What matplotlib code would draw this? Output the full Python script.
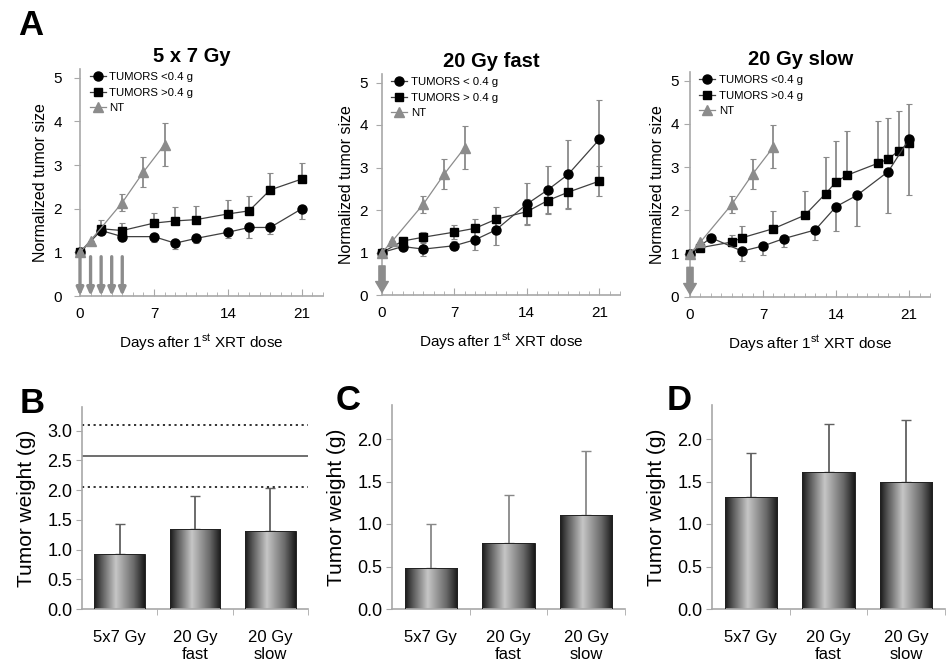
import matplotlib.pyplot as plt
import numpy as np
from matplotlib.colors import LinearSegmentedColormap
from matplotlib.ticker import MultipleLocator, FormatStrFormatter

plt.rcParams.update({'font.family': ['Liberation Sans', 'DejaVu Sans'],
                     'font.size': 10,
                     'figure.facecolor': 'white'})

# ---- panel A data (days after first dose, normalized size, error) ----
nt_day = [0, 1, 4, 6, 8]
nt_val = [1.0, 1.27, 2.14, 2.84, 3.47]
nt_err = [0, 0, 0.2, 0.35, 0.5]

a1_small_day = [0, 2, 4, 7, 9, 11, 14, 16, 18, 21]
a1_small_val = [1.0, 1.50, 1.36, 1.36, 1.21, 1.32, 1.46, 1.57, 1.57, 2.0]
a1_small_err = [0, 0.10, 0.10, 0.13, 0.13, 0.11, 0.14, 0.23, 0.16, 0.23]
a1_large_day = [0, 2, 4, 7, 9, 11, 14, 16, 18, 21]
a1_large_val = [1.0, 1.54, 1.50, 1.67, 1.72, 1.75, 1.88, 1.95, 2.43, 2.68]
a1_large_err = [0, 0.21, 0.18, 0.24, 0.31, 0.32, 0.33, 0.33, 0.39, 0.37]

a2_small_day = [0, 2, 4, 7, 9, 11, 14, 16, 18, 21]
a2_small_val = [1.0, 1.14, 1.08, 1.16, 1.30, 1.53, 2.14, 2.47, 2.84, 3.66]
a2_small_err = [0, 0.05, 0.17, 0.10, 0.25, 0.35, 0.50, 0.57, 0.80, 0.92]
a2_large_day = [0, 2, 4, 7, 9, 11, 14, 16, 18, 21]
a2_large_val = [1.0, 1.27, 1.36, 1.48, 1.57, 1.78, 1.96, 2.22, 2.42, 2.68]
a2_large_err = [0, 0.05, 0.13, 0.17, 0.22, 0.30, 0.30, 0.30, 0.40, 0.36]

a3_small_day = [0, 2, 5, 7, 9, 12, 14, 16, 19, 21]
a3_small_val = [1.0, 1.37, 1.06, 1.18, 1.35, 1.55, 2.09, 2.35, 2.90, 3.65]
a3_small_err = [0, 0, 0.23, 0.20, 0.19, 0.24, 0.56, 0.72, 0.96, 1.29]
a3_large_day = [0, 1, 4, 5, 8, 11, 13, 14, 15, 18, 19, 20, 21]
a3_large_val = [1.0, 1.14, 1.27, 1.37, 1.58, 1.89, 2.39, 2.66, 2.81, 3.09, 3.19, 3.38, 3.55]
a3_large_err = [0, 0, 0.16, 0.27, 0.41, 0.56, 0.85, 0.94, 1.02, 0.97, 0.95, 0.93, 0.91]

dose_days_5x7 = [0, 1, 2, 3, 4]
dose_days_20 = [0]

# ---- panels B-D data (tumor weight, g) ----
groups = ['5x7 Gy', '20 Gy\nfast', '20 Gy\nslow']
b_vals = [0.92, 1.35, 1.31]
b_err = [0.51, 0.56, 0.73]
b_ref_mean = 2.58
b_ref_band = [2.06, 3.09]
c_vals = [0.48, 0.78, 1.11]
c_err = [0.52, 0.56, 0.75]
d_vals = [1.32, 1.61, 1.49]
d_err = [0.51, 0.57, 0.73]

W, H = 952, 670
fig = plt.figure(figsize=(W/100, H/100), dpi=100)

def box(l, r, b, t):
    return [l/W, 1-b/H, (r-l)/W, (b-t)/H]

AX = '#a8a8a8'
NTC = '#8c8c8c'
ERC = '#8a8a8a'

def growth(rect, title, sday, sval, serr, lday, lval, lerr, both, labels, doses, big, ypad):
    ax = fig.add_axes(rect)
    sl = [serr, serr] if both else [serr, np.zeros(len(serr))]
    ll = [lerr, lerr] if both else [np.zeros(len(lerr)), lerr]
    ax.errorbar(nt_day, nt_val, yerr=nt_err, fmt='none', ecolor=ERC, elinewidth=1.3,
                capsize=2, capthick=0.8, zorder=2, clip_on=False)
    ax.errorbar(lday, lval, yerr=ll, fmt='none', ecolor=ERC, elinewidth=1.3,
                capsize=2, capthick=0.8, zorder=2, clip_on=False)
    ax.errorbar(sday, sval, yerr=sl, fmt='none', ecolor=ERC, elinewidth=1.3,
                capsize=2, capthick=0.8, zorder=2, clip_on=False)
    ax.plot(sday, sval, '-o', color='#404040', mfc='black', mec='black', ms=6.5, lw=0.9,
            label=labels[0], zorder=4, clip_on=False)
    ax.plot(lday, lval, '-s', color='#404040', mfc='black', mec='black', ms=6, lw=0.9,
            label=labels[1], zorder=3, clip_on=False)
    ax.plot(nt_day, nt_val, '-^', color=NTC, mfc=NTC, mec=NTC, ms=6.5, lw=0.9,
            label='NT', zorder=5, clip_on=False)
    for d in doses:
        if big:
            ax.annotate('', xy=(d, 0), xytext=(d, 0.75),
                        arrowprops=dict(arrowstyle='simple,head_length=0.55,head_width=0.65,tail_width=0.32',
                                        fc=NTC, ec=NTC, mutation_scale=14), zorder=6)
        else:
            ax.annotate('', xy=(d, 0), xytext=(d, 0.9),
                        arrowprops=dict(arrowstyle='-|>,head_length=0.45,head_width=0.2',
                                        color=NTC, lw=2.4, mutation_scale=10, shrinkA=0, shrinkB=0), zorder=6)
    ax.set_xlim(0, 23)
    ax.set_ylim(0, 5.2)
    ax.xaxis.set_major_locator(MultipleLocator(7))
    ax.xaxis.set_minor_locator(MultipleLocator(1))
    ax.yaxis.set_major_locator(MultipleLocator(1))
    ax.tick_params(axis='x', which='both', direction='in', color=AX, labelsize=11, pad=8)
    ax.tick_params(axis='x', which='major', length=5)
    ax.tick_params(axis='x', which='minor', length=3)
    ax.tick_params(axis='y', direction='out', length=4, color=AX, labelsize=11, pad=ypad)
    for s in ['top', 'right']:
        ax.spines[s].set_visible(False)
    for s in ['left', 'bottom']:
        ax.spines[s].set_color(AX)
        ax.spines[s].set_linewidth(1.2)
    ax.set_ylabel('Normalized tumor size', fontsize=11.5, labelpad=4)
    ax.set_xlabel(r'Days after 1$^{\mathregular{st}}$ XRT dose', fontsize=11, labelpad=8)
    ax.set_title(title, fontsize=14.5, fontweight='bold', x=0.46, pad=5)
    ax.legend(loc='upper left', bbox_to_anchor=(0.03, 0.995), frameon=False, fontsize=8.2,
              handlelength=1.4, handletextpad=0.3, labelspacing=0.45, borderaxespad=0,
              borderpad=0.2)
    return ax

growth(box(80, 323, 296, 69), '5 x 7 Gy', a1_small_day, a1_small_val, a1_small_err,
       a1_large_day, a1_large_val, a1_large_err, False,
       ['TUMORS <0.4 g', 'TUMORS >0.4 g'], dose_days_5x7, False, 9)
growth(box(382, 620, 295, 74), '20 Gy fast', a2_small_day, a2_small_val, a2_small_err,
       a2_large_day, a2_large_val, a2_large_err, True,
       ['TUMORS < 0.4 g', 'TUMORS > 0.4 g'], dose_days_20, True, 6)
growth(box(690, 930, 297, 72), '20 Gy slow', a3_small_day, a3_small_val, a3_small_err,
       a3_large_day, a3_large_val, a3_large_err, False,
       ['TUMORS <0.4 g', 'TUMORS >0.4 g'], dose_days_20, True, 4)

bar_cmap = LinearSegmentedColormap.from_list(
    'bargrad', [(0, '#181818'), (0.14, '#555555'), (0.43, '#c6c6c6'),
                (0.78, '#6a6a6a'), (1, '#181818')])

def weights(rect, vals, err, ymax, ecol):
    ax = fig.add_axes(rect)
    x = np.arange(len(vals))
    bars = ax.bar(x, vals, width=0.67, facecolor='none', edgecolor='#222222', lw=0.7, zorder=3)
    grad = np.linspace(0, 1, 256)[None, :]
    for p in bars.patches:
        im = ax.imshow(grad, cmap=bar_cmap, aspect='auto', zorder=2,
                       extent=[p.get_x(), p.get_x() + p.get_width(), 0, p.get_height()])
        im.set_clip_path(p)
    ax.errorbar(x, vals, yerr=[np.zeros(len(vals)), err], fmt='none', ecolor=ecol,
                elinewidth=1.3, capsize=3.5, capthick=1, zorder=1)
    ax.set_xlim(-0.5, 2.5)
    ax.set_ylim(0, ymax)
    ax.set_xticks(x)
    ax.set_xticklabels(groups, fontsize=12, linespacing=1.15)
    ax.set_xticks([0.5, 1.5, 2.5], minor=True)
    ax.tick_params(axis='x', which='major', length=0, pad=15)
    ax.tick_params(axis='x', which='minor', length=4, color=AX)
    ax.yaxis.set_major_locator(MultipleLocator(0.5))
    ax.yaxis.set_major_formatter(FormatStrFormatter('%.1f'))
    ax.tick_params(axis='y', direction='out', length=4, color=AX, labelsize=13, pad=3)
    for s in ['top', 'right']:
        ax.spines[s].set_visible(False)
    for s in ['left', 'bottom']:
        ax.spines[s].set_color(AX)
        ax.spines[s].set_linewidth(1.2)
    ax.set_ylabel('Tumor weight (g)', fontsize=15, labelpad=8)
    return ax

axb = weights(box(82, 308, 609, 407), b_vals, b_err, 3.4, '#606060')
axb.axhline(b_ref_mean, color='#555555', lw=1.2, zorder=1)
for v in b_ref_band:
    axb.axhline(v, color='#222222', lw=1.3, ls=(0, (1.2, 2)), zorder=1)
weights(box(392, 625, 609, 405), c_vals, c_err, 2.4, '#888888')
weights(box(712, 945, 609, 405), d_vals, d_err, 2.4, '#606060')

for lab, px, py in [('A', 18, 9), ('B', 20, 387), ('C', 336, 384), ('D', 667, 384)]:
    fig.text(px/W, 1-py/H, lab, fontsize=25, fontweight='bold', va='top', ha='left')

fig.savefig('out.png', dpi=100)
